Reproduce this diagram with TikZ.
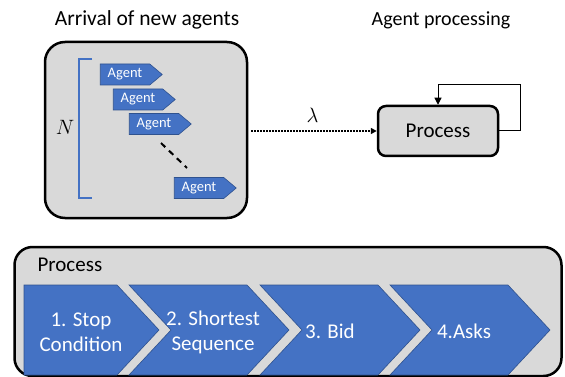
\documentclass[tikz,border=0pt]{standalone}
\usepackage{fontspec}
\setmainfont{Carlito}
\usetikzlibrary{shapes.symbols,arrows.meta}
\definecolor{panelgray}{HTML}{D9D9D9}
\definecolor{stepblue}{HTML}{4472C4}
\definecolor{stepedge}{HTML}{2F528F}
\tikzset{
  panel/.style={draw=black, line width=2.5pt, fill=panelgray},
  agentsig/.style={signal, signal to=east, signal pointer angle=80, fill=stepblue, draw=stepedge, line width=0.6pt, text=white, font=\fontsize{14.5}{16}\selectfont, minimum height=21pt, minimum width=62pt, inner sep=0pt},
  chevron/.style={fill=stepblue, draw=stepedge, line width=0.6pt},
  chevtext/.style={text=white, align=center, font=\fontsize{21}{25}\selectfont},
  title/.style={font=\fontsize{20}{24}\selectfont}
}
\begin{document}
\begin{tikzpicture}[x=1pt,y=-1pt]
\useasboundingbox (0,0) rectangle (565,377);
% upper half
\node[title, font=\fontsize{21.5}{24}\selectfont] (arrtitle) at (147,20) {Arrival of new agents};
\node[title] (proctitle) at (441,20) {Agent processing};
\node[panel, rounded corners=20pt, minimum width=202pt, minimum height=176pt] (agents) at (146,130) {};
\node[panel, rounded corners=8pt, minimum width=120pt, minimum height=50pt, font=\fontsize{21}{24}\selectfont] (proc) at (438,131) {Process};
\draw[stepblue, line width=2.5pt] (92,59) -- (79,59) -- (79,198) -- (92,198);
\node[font=\fontsize{20}{24}\selectfont] (nlabel) at (65,127) {$N$};
\node[agentsig] (ag1) at (125,74.5) {Agent};
\node[agentsig] (ag2) at (138,99.5) {Agent};
\node[agentsig] (ag3) at (154,124) {Agent};
\node[agentsig] (ag4) at (199,188) {Agent};
\draw[line width=2pt, dash pattern=on 6pt off 5pt] (161,143) -- (187,168);
\draw[line width=1.6pt, dash pattern=on 1.6pt off 1.4pt, -{Triangle[length=6pt,width=6pt]}, shorten <=3pt]
  (agents.east |- proc.west) -- node[above=4pt, font=\fontsize{20}{24}\selectfont] (rate) {$\lambda$} (proc.west);
\draw[line width=1pt, -{Triangle[length=7pt,width=7pt]}] (proc.east) -- ++(21,0) -- ++(0,-46) -| (proc.north);
% lower half
\node[panel, rounded corners=18pt, minimum width=547pt, minimum height=129pt] (flow) at (288,311.5) {};
\node[title, font=\fontsize{21}{24}\selectfont, anchor=west] (flowtitle) at (34,265) {Process};
\draw[chevron] (24,285) -- (117,285) -- (159,330) -- (117,375) -- (24,375) -- cycle;
\foreach \x in {129,260,390}
  \draw[chevron] (\x,285) -- ++(118,0) -- ++(42,45) -- ++(-42,45) -- ++(-118,0) -- ++(42,-45) -- cycle;
\node[chevtext] (s1) at (81,332) {1. Stop\\Condition};
\node[chevtext] (s2) at (213,332) {2. Shortest\\Sequence};
\node[chevtext] (s3) at (330,331) {3. Bid};
\node[chevtext] (s4) at (464,331) {4.Asks};
\end{tikzpicture}
\end{document}
